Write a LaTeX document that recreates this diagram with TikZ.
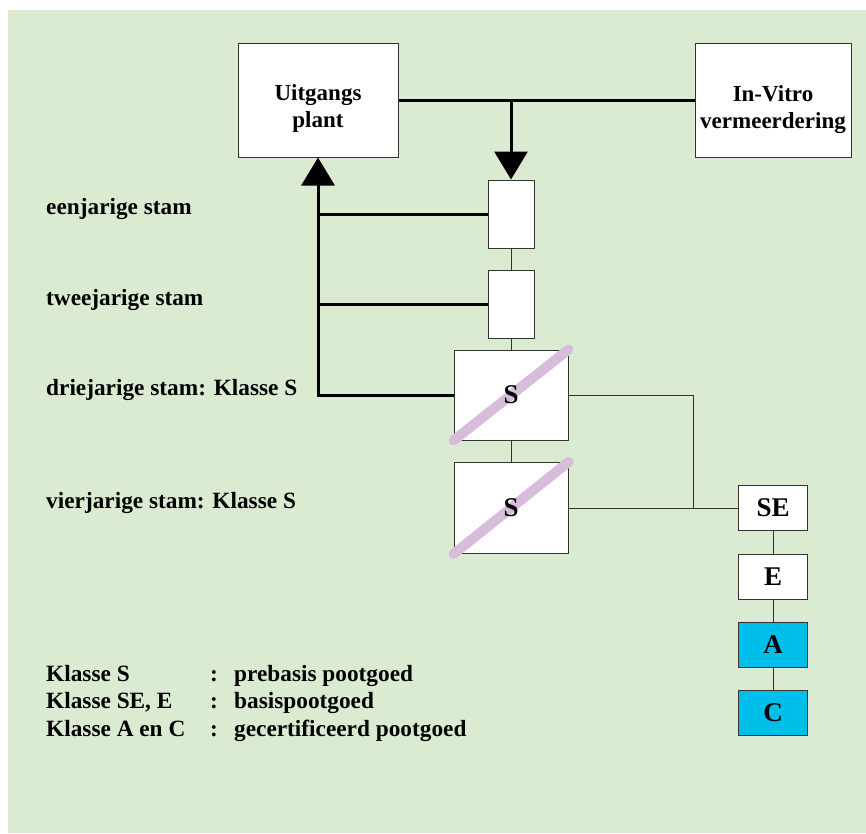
\documentclass[tikz,border=0pt]{standalone}
\usepackage{fontspec}
\setmainfont{Liberation Serif}
\usetikzlibrary{arrows.meta}
\definecolor{achtergrond}{RGB}{218,235,210}
\definecolor{streepkleur}{RGB}{216,188,220}
\definecolor{klasblauw}{RGB}{0,190,234}
\definecolor{lijnkleur}{RGB}{51,51,51}

\begin{document}
\begin{tikzpicture}[x=1pt,y=-1pt,
    doos/.style={draw=lijnkleur,line width=1pt,fill=white,inner sep=0pt,align=center,
        font=\fontsize{27}{30}\selectfont\bfseries},
    doostekst/.style={inner sep=0pt,align=center,font=\fontsize{23}{27}\selectfont\bfseries},
    letter/.style={inner sep=0pt,font=\fontsize{27}{30}\selectfont\bfseries},
    dik/.style={black,line width=3pt},
    dun/.style={lijnkleur,line width=1pt},
    pijl/.style={-{Triangle[width=33pt,length=28pt]}},
    streep/.style={streepkleur,line width=10pt,line cap=round},
    tekst/.style={anchor=base west,inner sep=0pt,font=\fontsize{23.3}{27.5}\selectfont\bfseries}]
    \useasboundingbox (0,0) rectangle (866,833);
    \fill [achtergrond] (8,10) rectangle (866,833);
    % bovenste rij
    \node [doos,minimum width=160pt,minimum height=114pt] (uit) at (318,100) {};
    \node [doos,minimum width=156pt,minimum height=114pt] (vitro) at (773,100) {};
    \node [doostekst] (uit-t) at ([yshift=-8.5pt]uit) {Uitgangs\\plant};
    \node [doostekst] (vitro-t) at ([yshift=-9.5pt]vitro) {In-Vitro\\vermeerdering};
    % stammen
    \node [doos,minimum width=46pt,minimum height=68pt] (een) at (511,214) {};
    \node [doos,minimum width=46pt,minimum height=68pt] (twee) at (511,304) {};
    \node [doos,minimum width=114pt,minimum height=90pt] (drie) at (511,395) {};
    \node [doos,minimum width=114pt,minimum height=91pt] (vier) at (511,508) {};
    % klassen
    \node [doos,minimum width=69pt,minimum height=45pt] (se) at (773,508) {SE};
    \node [doos,minimum width=69pt,minimum height=45pt] (e) at (773,577) {E};
    \node [doos,fill=klasblauw,minimum width=69pt,minimum height=45pt] (a) at (773,645) {A};
    \node [doos,fill=klasblauw,minimum width=69pt,minimum height=45pt] (c) at (773,713) {C};
    % doorgestreept
    \draw [streep] (drie.south west) -- (drie.north east);
    \draw [streep] (vier.south west) -- (vier.north east);
    \node [letter] (drie-s) at (drie) {S};
    \node [letter] (vier-s) at (vier) {S};
    % dikke lijnen
    \coordinate (tak) at (een.north |- uit.east);
    \draw [dik] (uit.east) -- (vitro.west);
    \draw [dik,pijl] (tak) -- (een.north);
    \draw [dik,pijl] (drie.west) -| (uit.south);
    \draw [dik] (een.west) -- (een.west -| uit.south);
    \draw [dik] (twee.west) -- (twee.west -| uit.south);
    % dunne lijnen
    \draw [dun] (een.south) -- (twee.north);
    \draw [dun] (twee.south) -- (drie.north);
    \draw [dun] (drie.south) -- (vier.north);
    \coordinate (knoop) at (693,508);
    \draw [dun] (drie.east) -| (knoop) -- (se.west);
    \draw [dun] (vier.east) -- (knoop);
    \draw [dun] (se.south) -- (e.north);
    \draw [dun] (e.south) -- (a.north);
    \draw [dun] (a.south) -- (c.north);
    % labels
    \node [tekst] (l-een) at (46,214) {eenjarige stam};
    \node [tekst] (l-twee) at (46,305) {tweejarige stam};
    \node [tekst] (l-drie) at (46,395) {driejarige stam: Klasse S};
    \node [tekst] (l-vier) at (46,508) {vierjarige stam: Klasse S};
    \node [tekst] (legenda) at (46,681) {\begin{tabular}[t]{@{}p{164pt}@{}p{24pt}@{}l@{}}
        Klasse S & : & prebasis pootgoed\\
        Klasse SE, E & : & basispootgoed\\
        Klasse A en C & : & gecertificeerd pootgoed
    \end{tabular}};
\end{tikzpicture}
\end{document}
